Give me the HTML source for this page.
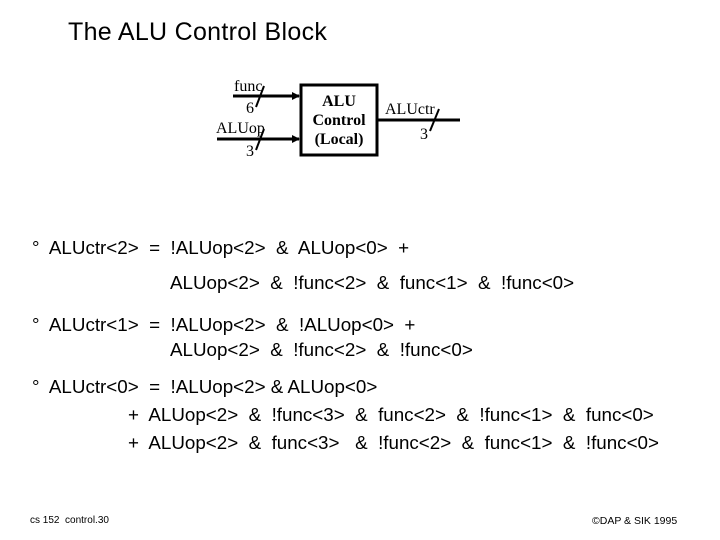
<!DOCTYPE html>
<html><head><style>
body{margin:0;width:720px;height:540px;background:#fff;position:relative;overflow:hidden;font-family:"Liberation Sans",sans-serif;color:#000}
.t{position:absolute;white-space:pre;font-size:18.8px;line-height:21px}
.s{font-family:"Liberation Serif",serif;position:absolute;white-space:pre;font-size:16px}
</style></head><body>
<div class="t" style="left:68px;top:17px;font-size:25px;line-height:30px;letter-spacing:0.3px">The ALU Control Block</div>
<svg width="720" height="540" style="position:absolute;left:0;top:0">
<defs><marker id="a" markerWidth="8" markerHeight="8" refX="7" refY="4" orient="auto" markerUnits="userSpaceOnUse"><path d="M0,0L8,4L0,8z"/></marker></defs>
<rect x="301" y="85" width="76" height="70" fill="none" stroke="#000" stroke-width="3"/>
<line x1="233" y1="96" x2="299" y2="96" stroke="#000" stroke-width="3" marker-end="url(#a)"/>
<line x1="217" y1="139" x2="299" y2="139" stroke="#000" stroke-width="3" marker-end="url(#a)"/>
<line x1="378" y1="120" x2="460" y2="120" stroke="#000" stroke-width="3"/>
<line x1="256" y1="107" x2="264" y2="86" stroke="#000" stroke-width="2"/>
<line x1="256" y1="150" x2="264" y2="129" stroke="#000" stroke-width="2"/>
<line x1="430" y1="131" x2="439" y2="109" stroke="#000" stroke-width="2"/>
</svg>
<div class="s" style="left:234px;top:78px">func</div>
<div class="s" style="left:246px;top:100px">6</div>
<div class="s" style="left:216px;top:120px">ALUop</div>
<div class="s" style="left:246px;top:143px">3</div>
<div class="s" style="left:304px;top:92px;width:70px;text-align:center;font-weight:bold;line-height:19px">ALU
Control
(Local)</div>
<div class="s" style="left:385px;top:101px">ALUctr</div>
<div class="s" style="left:420px;top:126px">3</div>
<div class="t" style="left:32px;top:237px">°  ALUctr&lt;2&gt;  =  !ALUop&lt;2&gt;  &amp;  ALUop&lt;0&gt;  +</div>
<div class="t" style="left:170px;top:272px">ALUop&lt;2&gt;  &amp;  !func&lt;2&gt;  &amp;  func&lt;1&gt;  &amp;  !func&lt;0&gt;</div>
<div class="t" style="left:32px;top:314px">°  ALUctr&lt;1&gt;  =  !ALUop&lt;2&gt;  &amp;  !ALUop&lt;0&gt;  +</div>
<div class="t" style="left:170px;top:339px">ALUop&lt;2&gt;  &amp;  !func&lt;2&gt;  &amp;  !func&lt;0&gt;</div>
<div class="t" style="left:32px;top:376px">°  ALUctr&lt;0&gt;  =  !ALUop&lt;2&gt; &amp; ALUop&lt;0&gt;</div>
<div class="t" style="left:128px;top:404px">+  ALUop&lt;2&gt;  &amp;  !func&lt;3&gt;  &amp;  func&lt;2&gt;  &amp;  !func&lt;1&gt;  &amp;  func&lt;0&gt;</div>
<div class="t" style="left:128px;top:432px">+  ALUop&lt;2&gt;  &amp;  func&lt;3&gt;   &amp;  !func&lt;2&gt;  &amp;  func&lt;1&gt;  &amp;  !func&lt;0&gt;</div>
<div class="t" style="left:30px;top:515px;font-size:10px;line-height:12px">cs 152  control.30</div>
<div class="t" style="left:592px;top:515px;font-size:10.5px;line-height:12px">©DAP &amp; SIK 1995</div>
</body></html>
